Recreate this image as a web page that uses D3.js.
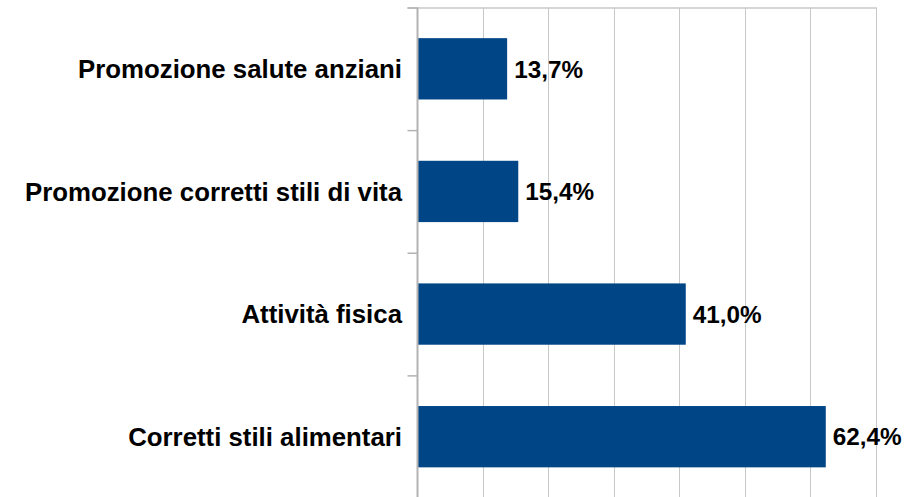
<!DOCTYPE html>
<html>
<head>
<meta charset="utf-8">
<script src="https://cdn.jsdelivr.net/npm/d3@7"></script>
<style>
  html, body { margin: 0; padding: 0; background: #ffffff; }
  svg { display: block; }
  text { font-family: "Liberation Sans", Arial, sans-serif; font-weight: bold; fill: #000; }
</style>
</head>
<body>
<svg id="chart" width="910" height="497"></svg>
<script>
const categories = ["Promozione salute anziani", "Promozione corretti stili di vita", "Attività fisica", "Corretti stili alimentari"];
const values = [13.7, 15.4, 41.0, 62.4];
const valueLabels = ["13,7%", "15,4%", "41,0%", "62,4%"];
const xTicks = [0, 10, 20, 30, 40, 50, 60, 70];

const svg = d3.select("#chart");
const plotLeft = 417.5, plotRight = 875.5, plotTop = 7.5, plotBottom = 497.5;

const x = d3.scaleLinear().domain([0, 70]).range([plotLeft, plotRight]);
const y = d3.scaleBand().domain(categories).range([plotTop, plotBottom + 0.5]).paddingInner(0.5).paddingOuter(0.25);

const gridColor = "#c8c8c8";
const axisColor = "#b3b3b3";

// vertical gridlines
svg.append("g").selectAll("line").data(xTicks.slice(1)).join("line")
  .attr("x1", d => Math.round(x(d)) + 0.5).attr("x2", d => Math.round(x(d)) + 0.5)
  .attr("y1", plotTop).attr("y2", 497)
  .attr("stroke", gridColor).attr("stroke-width", 1);

// top border line
svg.append("line")
  .attr("x1", plotLeft - 10).attr("x2", Math.round(x(70)) + 0.5)
  .attr("y1", plotTop + 0.5).attr("y2", plotTop + 0.5)
  .attr("stroke", gridColor).attr("stroke-width", 1.5);

// category boundary ticks
const step = y.step();
const boundaries = d3.range(categories.length + 1).map(i => plotTop + i * step);
svg.append("g").selectAll("line").data(boundaries).join("line")
  .attr("x1", plotLeft - 10).attr("x2", plotLeft)
  .attr("y1", d => d + 0.5).attr("y2", d => d + 0.5)
  .attr("stroke", axisColor).attr("stroke-width", 1.5);

// bars
svg.append("g").selectAll("rect").data(values).join("rect")
  .attr("x", x(0))
  .attr("y", (d, i) => y(categories[i]))
  .attr("width", d => x(d) - x(0))
  .attr("height", y.bandwidth())
  .attr("fill", "#004586");

// y axis line
svg.append("line")
  .attr("x1", plotLeft).attr("x2", plotLeft)
  .attr("y1", plotTop).attr("y2", 497)
  .attr("stroke", axisColor).attr("stroke-width", 2);

// category labels
svg.append("g").selectAll("text").data(categories).join("text")
  .attr("x", 402)
  .attr("y", d => y(d) + y.bandwidth() / 2)
  .attr("dy", "0.36em")
  .attr("text-anchor", "end")
  .attr("font-size", 25.8)
  .text(d => d);

// value labels
svg.append("g").selectAll("text").data(values).join("text")
  .attr("x", d => x(d) + 7)
  .attr("y", (d, i) => y(categories[i]) + y.bandwidth() / 2)
  .attr("dy", "0.36em")
  .attr("font-size", 24.3)
  .text((d, i) => valueLabels[i]);
</script>
</body>
</html>
